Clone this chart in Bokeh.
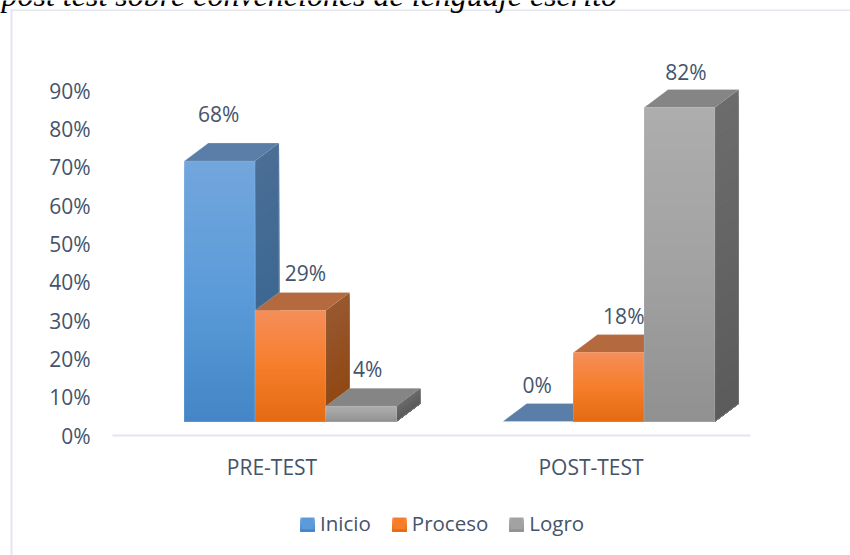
from bokeh.plotting import figure
from bokeh.embed import file_html
from bokeh.resources import INLINE
from bokeh.models import Range1d, Label, Legend, LegendItem, FixedTicker, LinearAxis

categories = ["PRE-TEST", "POST-TEST"]
series_names = ["Inicio", "Proceso", "Logro"]
inicio = [68, 0]
proceso = [29, 18]
logro = [4, 82]
tick_values = [0, 10, 20, 30, 40, 50, 60, 70, 80, 90]
title_text = "post test sobre convenciones de lenguaje escrito"

INK = "#44546A"
FONT = "Open Sans"
LINE = "#E3E6EF"

def lerp(a, b, t):
    a = [int(a[i:i+2], 16) for i in (1, 3, 5)]
    b = [int(b[i:i+2], 16) for i in (1, 3, 5)]
    return "#%02x%02x%02x" % tuple(round(u + (v - u) * t) for u, v in zip(a, b))

def ramp(stops, t):
    n = len(stops) - 1
    i = min(int(t * n), n - 1)
    return lerp(stops[i], stops[i + 1], t * n - i)

W, H = 850, 555          # figure size
AX_L, AX_B = 112, 435    # axis origin in picture pixels
PX_X = 319.0
PX_Y = 3.83
BAR_W = 70.7 / PX_X
DEPTH_X = 24 / PX_X
DEPTH_Y = 18 / PX_Y
FLOOR = 14 / PX_Y
GROUP_SHIFT = 18.4 / PX_X
GROUP_PITCH = 318.4 / PX_X

def xd(px):
    return (px - AX_L) / PX_X

def yd(py):
    return (AX_B - py) / PX_Y

styles = [
    dict(front=["#72A6DC", "#5B9BD9", "#4385C6"], side=["#4A6E96", "#33638F"], top="#5A7EA8", mid="#5B9BD9", dx=-1, swatch=300),
    dict(front=["#F58E58", "#F67D2A", "#E46A12"], side=["#98582F", "#8F4510"], top="#B5693F", mid="#F67D2A", dx=15, swatch=392),
    dict(front=["#ADADAD", "#A2A2A2", "#909090"], side=["#6C6C6C", "#5B5B5B"], top="#858585", mid="#A2A2A2", dx=6.5, swatch=509),
]

p = figure(width=W, height=H, output_backend="svg", toolbar_location=None,
           x_range=Range1d(xd(0), xd(W)), y_range=Range1d(yd(H), yd(0)),
           min_border=0, x_axis_type=None, y_axis_type=None,
           background_fill_color="white", border_fill_color="white",
           outline_line_color=None)
p.grid.visible = False

yax = LinearAxis(fixed_location=0, bounds=(0, 90), ticker=FixedTicker(ticks=tick_values),
                 major_label_overrides={v: f"{v}%" for v in tick_values},
                 axis_line_color=None, major_tick_line_color=None, minor_tick_line_color=None,
                 major_label_standoff=16, major_label_text_font=FONT,
                 major_label_text_font_size="21px", major_label_text_color=INK)
p.add_layout(yax, "left")

xax = LinearAxis(fixed_location=0, bounds=(0, 2), ticker=FixedTicker(ticks=[0.5, 1.5]),
                 major_label_overrides={0.5: categories[0], 1.5: categories[1]},
                 axis_line_color=LINE, axis_line_width=2,
                 major_tick_line_color=None, minor_tick_line_color=None,
                 major_label_standoff=11, major_label_text_font=FONT,
                 major_label_text_font_size="21px", major_label_text_color=INK)
p.add_layout(xax, "below")

legend_items = []
STEPS = 48
all_series = [inicio, proceso, logro]
for s, (name, vals, st) in enumerate(zip(series_names, all_series, styles)):
    lefts = [0.5 + i * GROUP_PITCH + GROUP_SHIFT + (s - 1.5) * BAR_W for i in range(2)]
    rights = [l + BAR_W for l in lefts]
    tops = [FLOOR + v for v in vals]
    # side faces
    for k in range(STEPS):
        t = k / STEPS
        xs, ys, cols = [], [], []
        for r, tp in zip(rights, tops):
            yy = tp - (tp - FLOOR) * t
            xs.append([r, r + DEPTH_X, r + DEPTH_X, r])
            ys.append([FLOOR, FLOOR + DEPTH_Y, yy + DEPTH_Y, yy])
            cols.append(ramp(st["side"], t))
        p.patches(xs, ys, fill_color=cols, line_color=None)
    # top faces
    p.patches([[l, l + DEPTH_X, r + DEPTH_X, r] for l, r in zip(lefts, rights)],
              [[tp, tp + DEPTH_Y, tp + DEPTH_Y, tp] for tp in tops],
              fill_color=st["top"], line_color=None)
    # soft edge along the top and side faces
    p.multi_line([[l, l + DEPTH_X, r + DEPTH_X, r + DEPTH_X, r] for l, r in zip(lefts, rights)],
                 [[tp, tp + DEPTH_Y, tp + DEPTH_Y, FLOOR + DEPTH_Y, FLOOR] for tp in tops],
                 line_color="white", line_alpha=0.2, line_width=1)
    # front faces
    base = p.quad(left=lefts, right=rights, bottom=[FLOOR] * 2, top=tops,
                  fill_color=st["mid"], line_color=None)
    for k in range(STEPS):
        t = k / STEPS
        p.quad(left=lefts, right=rights, bottom=[FLOOR] * 2,
               top=[FLOOR + v - v * t for v in vals],
               fill_color=ramp(st["front"], t), line_color=None)
    p.quad(left=lefts, right=rights, bottom=[FLOOR] * 2, top=tops,
           fill_color=None, line_color="white", line_alpha=0.12, line_width=1)
    legend_items.append(LegendItem(label=name, renderers=[base]))
    # data labels
    for i, (l, r, tp, v) in enumerate(zip(lefts, rights, tops, vals)):
        offset = 47 if (s == 0 and i == 0) else 35 if (s == 2 and i == 1) else 37
        p.add_layout(Label(x=(l + r) / 2, y=tp, text=f"{v}%", x_offset=st["dx"], y_offset=offset,
                           text_align="center", text_baseline="middle", text_font=FONT,
                           text_font_size="21px", text_color=INK))

legend = Legend(items=legend_items, orientation="horizontal", location=(300, H - 537),
                glyph_width=14, glyph_height=14, label_standoff=6, spacing=21,
                margin=0, padding=0, border_line_color=None, background_fill_alpha=0,
                label_text_font=FONT, label_text_font_size="20.5px", label_text_color=INK)
p.add_layout(legend)

# gradient on the legend swatches
for st in styles:
    for k in range(14):
        p.quad(left=[xd(st["swatch"])], right=[xd(st["swatch"] + 14)], bottom=[yd(531)], top=[yd(517 + k)],
               fill_color=ramp(st["front"], k / 13), line_color=None, level="overlay")

# panel borders and caption
p.quad(left=[xd(10)], right=[xd(12)], top=[yd(9)], bottom=[yd(H)], fill_color=LINE, line_color=None)
p.quad(left=[xd(10)], right=[xd(W)], top=[yd(9)], bottom=[yd(10.5)], fill_color=LINE, line_color=None)
p.add_layout(Label(x=xd(1), y=yd(-6), text=title_text, text_font="Liberation Serif",
                   text_font_style="italic", text_font_size="32px", text_color="#000000",
                   text_align="left", text_baseline="alphabetic"))

open("out.html", "w").write(file_html(p, INLINE))
